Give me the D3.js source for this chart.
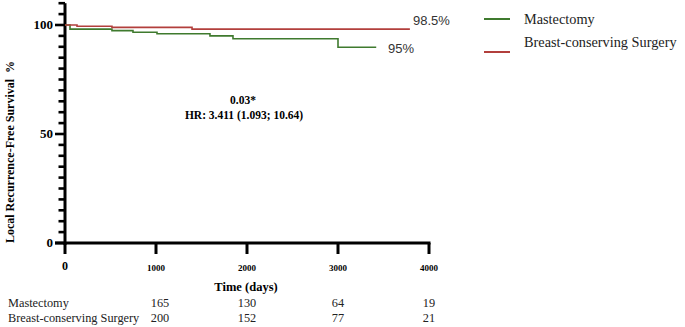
<!DOCTYPE html>
<html><head><meta charset="utf-8">
<script src="https://cdn.jsdelivr.net/npm/d3@7"></script>
<style>body{margin:0;background:#fff}svg{display:block}</style>
</head><body>
<svg id="c" width="685" height="327"></svg>
<script>
const groups = ["Mastectomy", "Breast-conserving Surgery"];
const colors = ["#3f7a2e", "#b23f3c"];
// Kaplan-Meier step data: [time (days), survival %]
const mastTimes = [0, 55, 516, 747, 1011, 1593, 1846, 3000, 3420];
const mastSurv  = [100, 98.1, 97.4, 96.7, 96.0, 95.0, 93.7, 89.8, 89.8];
const bcsTimes  = [0, 132, 516, 1396, 3790];
const bcsSurv   = [100, 99.4, 98.9, 98.1, 98.1];
const endLabels = ["95%", "98.5%"];
const xTicks = [0, 1000, 2000, 3000, 4000];
const yMajor = [0, 50, 100];
const riskTimes = [1000, 2000, 3000, 4000];
const riskMast = [165, 130, 64, 19];
const riskBcs  = [200, 152, 77, 21];
const pText = "0.03*";
const hrText = "HR: 3.411 (1.093; 10.64)";

const svg = d3.select("#c");
const serif = "'Liberation Serif','Times New Roman',serif";
const sans = "'Liberation Sans',Arial,sans-serif";
const x = d3.scaleLinear().domain([0, 4000]).range([65, 429]);
const y = d3.scaleLinear().domain([0, 100]).range([243, 25]);

// y axis
const yAxis = svg.append("g");
yAxis.append("line").attr("x1", x(0)).attr("x2", x(0)).attr("y1", y(110)).attr("y2", y(0) + 2)
  .attr("stroke", "#000").attr("stroke-width", 3);
d3.range(0, 111, 5).forEach(v => {
  const major = yMajor.includes(v);
  yAxis.append("line").attr("x1", x(0) - (major ? 10 : 6.5)).attr("x2", x(0))
    .attr("y1", y(v)).attr("y2", y(v)).attr("stroke", "#000").attr("stroke-width", 2.6);
});
yMajor.forEach(v => {
  yAxis.append("text").attr("x", x(0) - 12).attr("y", y(v) + 4).attr("text-anchor", "end")
    .attr("font-family", serif).attr("font-weight", "bold").attr("font-size", 13).text(v);
});
// x axis
const xAxis = svg.append("g");
xAxis.append("line").attr("x1", x(0) - 10).attr("x2", x(4000) + 1.5).attr("y1", y(0)).attr("y2", y(0))
  .attr("stroke", "#000").attr("stroke-width", 3);
xTicks.forEach(v => {
  xAxis.append("line").attr("x1", x(v)).attr("x2", x(v)).attr("y1", y(0)).attr("y2", y(0) + 11)
    .attr("stroke", "#000").attr("stroke-width", 3);
  xAxis.append("text").attr("x", x(v)).attr("y", v === 0 ? 270 : 271).attr("text-anchor", "middle")
    .attr("font-family", serif).attr("font-weight", "bold").attr("font-size", v === 0 ? 12 : 9)
    .text(v);
});
svg.append("text").attr("x", 246).attr("y", 291).attr("text-anchor", "middle")
  .attr("font-family", serif).attr("font-weight", "bold").attr("font-size", 12.5).text("Time (days)");
svg.append("text").attr("transform", "translate(14,152) rotate(-90)").attr("text-anchor", "middle")
  .attr("font-family", serif).attr("font-weight", "bold").attr("font-size", 12)
  .attr("xml:space", "preserve").text("Local Recurrence-Free Survival  %");

// curves
const line = d3.line().x(d => x(d[0])).y(d => y(d[1])).curve(d3.curveStepAfter);
const series = [d3.zip(mastTimes, mastSurv), d3.zip(bcsTimes, bcsSurv)];
series.forEach((s, i) => {
  svg.append("path").datum(s).attr("d", line).attr("fill", "none")
    .attr("stroke", colors[i]).attr("stroke-width", 1.6);
});
// end labels
svg.append("text").attr("x", 388).attr("y", 53).attr("font-family", sans).attr("font-size", 13)
  .attr("fill", "#333").text(endLabels[0]);
svg.append("text").attr("x", 413).attr("y", 25).attr("font-family", sans).attr("font-size", 13)
  .attr("fill", "#333").text(endLabels[1]);

// annotation
svg.append("text").attr("x", 243).attr("y", 104).attr("text-anchor", "middle")
  .attr("font-family", serif).attr("font-weight", "bold").attr("font-size", 11.5).text(pText);
svg.append("text").attr("x", 244).attr("y", 119).attr("text-anchor", "middle")
  .attr("font-family", serif).attr("font-weight", "bold").attr("font-size", 11.5).text(hrText);

// legend
const legY = [19, 52];
const legTextY = [24, 47];
groups.forEach((g, i) => {
  svg.append("line").attr("x1", 484).attr("x2", 510).attr("y1", legY[i]).attr("y2", legY[i])
    .attr("stroke", colors[i]).attr("stroke-width", 2);
  svg.append("text").attr("x", 524).attr("y", legTextY[i]).attr("font-family", serif)
    .attr("font-size", 14.3).attr("fill", "#222").text(g);
});

// risk table
const riskRows = [riskMast, riskBcs];
const rowY = [307, 322];
riskRows.forEach((r, i) => {
  svg.append("text").attr("x", 8).attr("y", rowY[i]).attr("font-family", serif)
    .attr("font-size", 12.3).attr("fill", "#222").text(groups[i]);
  r.forEach((n, j) => {
    svg.append("text").attr("x", x(riskTimes[j]) + (j === 0 ? 4 : 0)).attr("y", rowY[i])
      .attr("text-anchor", "middle").attr("font-family", serif).attr("font-size", 12.3)
      .attr("fill", "#222").text(n);
  });
});
</script>
</body></html>
